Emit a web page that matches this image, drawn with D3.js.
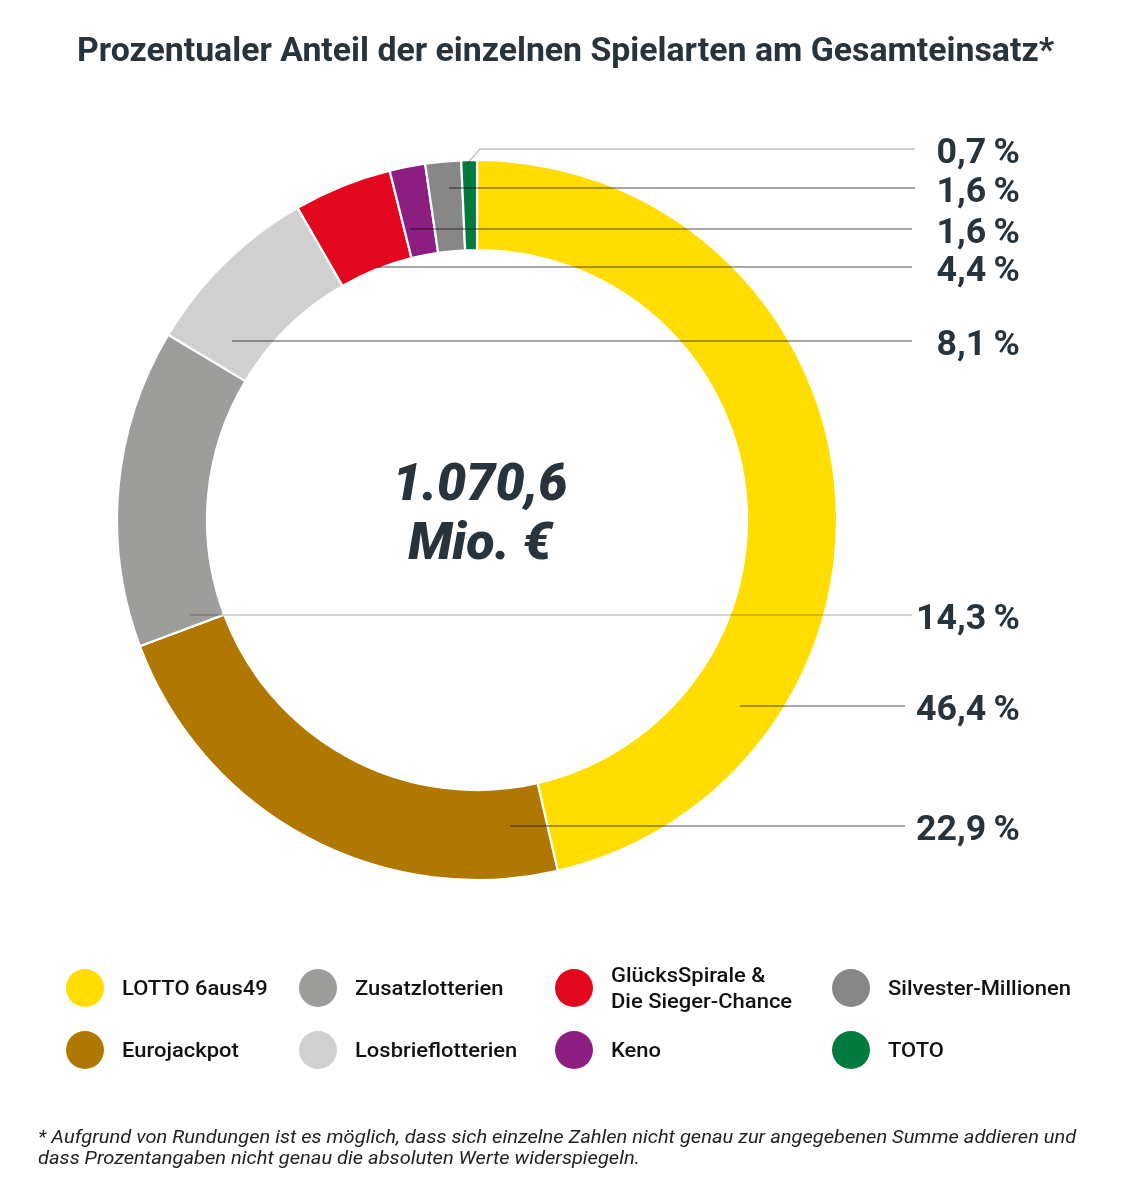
<!DOCTYPE html>
<html><head><meta charset="utf-8">
<script src="https://cdn.jsdelivr.net/npm/d3@7"></script>
<style>
html,body{margin:0;padding:0;background:#fff;}
svg{display:block;}
</style></head>
<body>
<script>
// ---- data ----
const categories = ["LOTTO 6aus49","Eurojackpot","Zusatzlotterien","Losbrieflotterien","GlücksSpirale & Die Sieger-Chance","Keno","Silvester-Millionen","TOTO"];
const shares = [46.4, 22.9, 14.3, 8.1, 4.4, 1.6, 1.6, 0.7];
const shareLabels = ["46,4\u2009%","22,9\u2009%","14,3\u2009%","8,1\u2009%","4,4\u2009%","1,6\u2009%","1,6\u2009%","0,7\u2009%"];
const colors = ["#FFDD00","#B07800","#9D9D9C","#D0D0D0","#E2071E","#8B1E80","#878787","#007A3D"];
const legendLines = [["LOTTO 6aus49"],["Eurojackpot"],["Zusatzlotterien"],["Losbrieflotterien"],["GlücksSpirale &","Die Sieger-Chance"],["Keno"],["Silvester-Millionen"],["TOTO"]];
const totalLabel = ["1.070,6","Mio. €"];
const title = "Prozentualer Anteil der einzelnen Spielarten am Gesamteinsatz*";
const footnote = ["* Aufgrund von Rundungen ist es möglich, dass sich einzelne Zahlen nicht genau zur angegebenen Summe addieren und","dass Prozentangaben nicht genau die absoluten Werte widerspiegeln."];

// ---- layout ----
const W = 1132, H = 1200, cx = 477, cy = 520, R = 360, r0 = 270;
const labelLayout = [
  {ly:706, sx:740, ex:905, light:false},
  {ly:826, sx:510, ex:905, light:false},
  {ly:615, sx:190, ex:912, light:true},
  {ly:341, sx:232, ex:912, light:false},
  {ly:267, sx:378, ex:912, light:false},
  {ly:229, sx:410, ex:912, light:false},
  {ly:188, sx:449, ex:915, light:false},
  {ly:149, sx:480, ex:915, light:true, kink:[467,164]}
];
const textColor = "#29333b";
const FONT = "Roboto, sans-serif";

const svg = d3.select("body").append("svg").attr("width",W).attr("height",H);

// title
svg.append("text").attr("x",W/2-0.5).attr("y",61).attr("text-anchor","middle")
  .attr("font-family",FONT).attr("font-weight",700).attr("font-size",33)
  .attr("fill",textColor).text(title)
  .attr("textLength",977).attr("lengthAdjust","spacingAndGlyphs");

// donut
const pie = d3.pie().sort(null).value(d=>d);
const arc = d3.arc().innerRadius(r0).outerRadius(R);
const g = svg.append("g").attr("transform",`translate(${cx},${cy})`);
g.selectAll("path").data(pie(shares)).join("path")
  .attr("d",arc).attr("fill",(d,i)=>colors[i])
  .attr("stroke","#fff").attr("stroke-width",2.2).attr("stroke-linejoin","miter");

// leader lines + value labels
const lg = svg.append("g");
const labG = svg.append("g");
shares.forEach((v,i)=>{
  const L = labelLayout[i];
  const pts = L.kink ? [L.kink,[L.sx,L.ly],[L.ex,L.ly]] : [[L.sx,L.ly],[L.ex,L.ly]];
  lg.append("path").attr("d",d3.line()(pts)).attr("fill","none")
    .attr("stroke", L.light ? "#c4c4c4" : "#8a8a8a").attr("stroke-width",1.3)
    .style("mix-blend-mode","multiply");
  labG.append("text").attr("x",0).attr("y",L.ly+14).attr("text-anchor","end")
    .attr("font-family",FONT).attr("font-weight",700).attr("font-size",35)
    .attr("fill",textColor).text(shareLabels[i]);
});
{
  const w = labG.select("text").node().getComputedTextLength();
  const k = 104 / w;
  labG.attr("transform",`translate(1020,0) scale(${k},1)`);
}

// center total
const cg = svg.append("g");
totalLabel.forEach((t,k)=>{
  cg.append("text").attr("x",0).attr("y",500 + k*59).attr("text-anchor","middle")
    .attr("font-family",FONT).attr("font-weight",900).attr("font-style","italic")
    .attr("font-size",52).attr("fill",textColor).text(t);
});
{
  const w = cg.select("text").node().getComputedTextLength();
  const k = 175 / w;
  cg.attr("transform",`translate(480,0) scale(${k},1)`);
}

// legend: 4 columns, 2 rows (column-major)
const colX = [85,318,574,851], rowY = [988,1050];
const legG = svg.append("g");
let legTexts = [];
categories.forEach((c,i)=>{
  const col = Math.floor(i/2), row = i%2;
  const x = colX[col], y = rowY[row];
  legG.append("circle").attr("cx",x).attr("cy",y).attr("r",19).attr("fill",colors[i]);
  const lines = legendLines[i];
  const tg = legG.append("g").attr("transform",`translate(${x+37},0)`);
  const tx = tg.append("text").attr("x",0).attr("font-family",FONT)
    .attr("font-weight",500).attr("font-size",21).attr("fill","#111");
  lines.forEach((ln,k)=>{
    tx.append("tspan").attr("x",0)
      .attr("y", y + 7 + (k - (lines.length-1)/2)*26).text(ln);
  });
  legTexts.push({tg,x:x+37,tx});
});
{
  const w = legTexts[6].tx.node().getComputedTextLength();
  const k = 183 / w;
  legTexts.forEach(o=>o.tg.attr("transform",`translate(${o.x},0) scale(${k},1)`));
}

// footnote
const fg = svg.append("g");
const f1 = fg.append("text").attr("x",0).attr("y",0).attr("font-family",FONT)
  .attr("font-style","italic").attr("font-size",18).attr("fill","#222").text(footnote[0]);
fg.append("text").attr("x",0).attr("y",21).attr("font-family",FONT)
  .attr("font-style","italic").attr("font-size",18).attr("fill","#222").text(footnote[1]);
{
  const len = f1.node().getComputedTextLength();
  fg.attr("transform",`translate(38,1143) scale(${1039/len},1)`);
}
</script>
</body></html>
